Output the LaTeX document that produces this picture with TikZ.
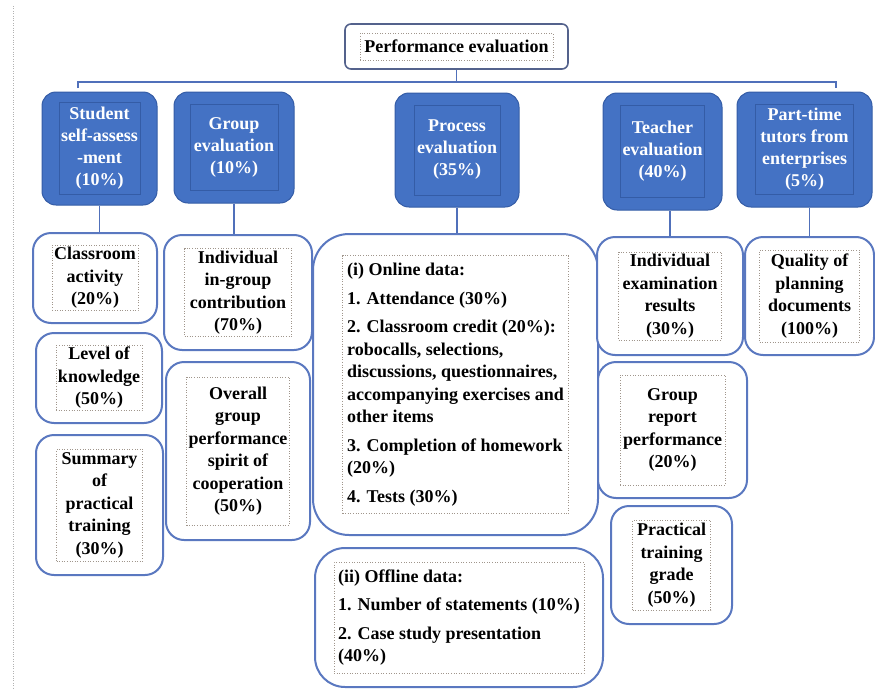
\documentclass[tikz,border=0pt]{standalone}
\usepackage{fontspec}
\setmainfont{Liberation Serif}
\definecolor{headblue}{RGB}{68,114,196}
\definecolor{headline}{RGB}{52,92,166}
\definecolor{leafline}{RGB}{90,120,192}
\definecolor{linkblue}{RGB}{80,112,186}
\definecolor{topline}{RGB}{84,98,140}
\definecolor{framegray}{RGB}{160,150,140}

\begin{document}
\begin{tikzpicture}[
    x=1pt, y=-1pt,
    topbox/.style={draw=topline, line width=1.6pt, rounded corners=6pt, fill=white},
    headbox/.style={draw=headline, fill=headblue, line width=1pt, rounded corners=14pt},
    leafbox/.style={draw=leafline, line width=2pt, rounded corners=18pt, fill=white},
    bigbox/.style={leafbox, rounded corners=36pt},
    headframe/.style={draw=headline, line width=0.6pt, inner sep=2pt, align=center, text=white, font=\bfseries\fontsize{18}{22}\selectfont},
    leafframe/.style={draw=framegray, dotted, line width=0.6pt, inner sep=2pt, align=center, font=\bfseries\fontsize{18}{22.5}\selectfont},
    listframe/.style={leafframe, align=left},
    link/.style={draw=linkblue, line width=1.4pt},
    marginline/.style={draw=gray!60, dotted}
]
\useasboundingbox (0,0) rectangle (875,688);
\draw[marginline] (13,6) -- (13,688);
% top of the tree
\node[topbox, minimum width=223pt, minimum height=45pt] (perf) at (456.5,46.5) {};
\node[leafframe, minimum width=193pt, minimum height=27pt] at (perf) {Performance evaluation};
\coordinate (busL) at (78,82);
\coordinate (busR) at (836,82);
\coordinate (dropL) at (78,88);
\coordinate (dropR) at (836,88);
\draw[link] (perf.south) -- (perf.south |- busL);
\draw[link] (dropL) -- (busL) -- (busR) -- (dropR);
% five evaluation parts
\node[headbox, minimum width=115pt, minimum height=113pt] (self) at (99.5,148.5) {};
\node[headframe, minimum width=78pt, minimum height=92pt] at (self) {Student\\self-assess\\-ment\\(10\%)};
\node[headbox, minimum width=120pt, minimum height=111pt] (group) at (234,147.5) {};
\node[headframe, minimum width=88pt, minimum height=86pt] at (group) {Group\\evaluation\\(10\%)};
\node[headbox, minimum width=124pt, minimum height=114pt] (process) at (457,150) {};
\node[headframe, minimum width=86pt, minimum height=90pt] at (process) {Process\\evaluation\\(35\%)};
\node[headbox, minimum width=119pt, minimum height=117pt] (teacher) at (662.5,151.5) {};
\node[headframe, minimum width=84pt, minimum height=92pt] at (teacher) {Teacher\\evaluation\\(40\%)};
\node[headbox, minimum width=135pt, minimum height=115pt] (tutor) at (804.5,149.5) {};
\node[headframe, minimum width=98pt, minimum height=90pt] at (tutor) {Part-time\\tutors from\\enterprises\\(5\%)};
% student self-assessment
\node[leafbox, minimum width=124pt, minimum height=90pt] (activity) at (95,278) {};
\node[leafframe, minimum width=86pt, minimum height=65pt] at (activity) {Classroom\\activity\\(20\%)};
\node[leafbox, minimum width=126pt, minimum height=90pt] (knowledge) at (99,378) {};
\node[leafframe, minimum width=84pt, minimum height=64pt] at (knowledge) {Level of\\knowledge\\(50\%)};
\node[leafbox, minimum width=127pt, minimum height=140pt] (summary) at (99.5,505) {};
\node[leafframe, minimum width=86pt, minimum height=112pt] at (summary) {Summary\\of\\practical\\training\\(30\%)};
% group evaluation
\node[leafbox, minimum width=148pt, minimum height=115pt] (contrib) at (238,292.5) {};
\node[leafframe, minimum width=107pt, minimum height=87pt] at (contrib) {Individual\\in-group\\contribution\\(70\%)};
\node[leafbox, minimum width=144pt, minimum height=178pt] (overall) at (238,451) {};
\node[leafframe, minimum width=100pt, minimum height=148pt] at (overall) {Overall\\group\\performance\\spirit of\\cooperation\\(50\%)};
% process evaluation
\node[bigbox, minimum width=285pt, minimum height=301pt] (online) at (455.5,384.5) {};
\node[listframe, minimum width=226pt, minimum height=258pt] at (online) {(i) Online data:\\[6pt]
1. Attendance (30\%)\\[6pt]
2. Classroom credit (20\%):\\
robocalls, selections,\\
discussions, questionnaires,\\
accompanying exercises and\\
other items\\[6pt]
3. Completion of homework\\
(20\%)\\[6pt]
4. Tests (30\%)};
\node[bigbox, rounded corners=30pt, minimum width=288pt, minimum height=139pt] (offline) at (459,617.5) {};
\node[listframe, minimum width=250pt, minimum height=111pt] at (offline) {(ii) Offline data:\\[6pt]
1. Number of statements (10\%)\\[6pt]
2. Case study presentation\\
(40\%)};
% teacher evaluation
\node[leafbox, minimum width=146pt, minimum height=118pt] (exam) at (670,296) {};
\node[leafframe, minimum width=103pt, minimum height=88pt] at (exam) {Individual\\examination\\results\\(30\%)};
\node[leafbox, minimum width=149pt, minimum height=136pt] (report) at (672.5,430) {};
\node[leafframe, minimum width=105pt, minimum height=110pt] at (report) {Group\\report\\performance\\(20\%)};
\node[leafbox, minimum width=121pt, minimum height=118pt] (grade) at (671.5,565) {};
\node[leafframe, minimum width=78pt, minimum height=90pt] at (grade) {Practical\\training\\grade\\(50\%)};
% part-time tutors
\node[leafbox, minimum width=129pt, minimum height=118pt] (quality) at (809.5,296) {};
\node[leafframe, minimum width=100pt, minimum height=92pt] at (quality) {Quality of\\planning\\documents\\(100\%)};
% links down to the first boxes
\draw[link] (self.south) -- (self.south |- activity.north);
\draw[link] (group.south) -- (group.south |- contrib.north);
\draw[link] (process.south) -- (process.south |- online.north);
\draw[link] (exam.north) -- (exam.north |- teacher.south);
\draw[link] (quality.north) -- (quality.north |- tutor.south);
\end{tikzpicture}
\end{document}
